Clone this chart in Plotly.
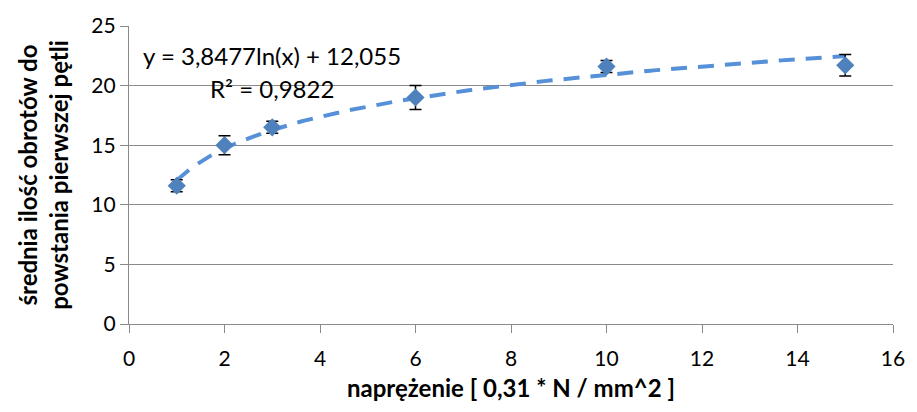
import numpy as np
import plotly.graph_objects as go

# measured data
stress = [1, 2, 3, 6, 10, 15]
mean_turns = [11.6, 15.0, 16.5, 19.0, 21.6, 21.7]
turns_err = [0.5, 0.8, 0.5, 1.0, 0.5, 0.9]

# logarithmic fit: y = a*ln(x) + b
fit_a = 3.8477
fit_b = 12.055
fit_r2 = "0,9822"

x_ticks = [0, 2, 4, 6, 8, 10, 12, 14, 16]
y_ticks = [0, 5, 10, 15, 20, 25]

FONT = "Lato, Roboto, sans-serif"
GRID = "#8a8a8a"

fit_x = np.linspace(min(stress), max(stress), 200)
fit_y = fit_a * np.log(fit_x) + fit_b

fig = go.Figure()

fig.add_trace(go.Scatter(
    x=fit_x, y=fit_y, mode="lines",
    line=dict(color="#5590D8", width=4, dash="16px,11px"),
    hoverinfo="skip", showlegend=False,
))

fig.add_trace(go.Scatter(
    x=stress, y=mean_turns, mode="markers",
    marker=dict(symbol="diamond", size=14, color="#4F81BD"),
    error_y=dict(type="data", array=turns_err, visible=True,
                 color="#000000", thickness=1.5, width=6),
    showlegend=False,
))

fig.add_annotation(
    x=3.0, y=22.5, xref="x", yref="y", showarrow=False,
    text="y = 3,8477ln(x) + 12,055",
    font=dict(family=FONT, size=24, color="#000000"),
    xanchor="center", yanchor="middle",
)
fig.add_annotation(
    x=3.0, y=19.75, xref="x", yref="y", showarrow=False,
    text="R² = " + fit_r2,
    font=dict(family=FONT, size=24, color="#000000"),
    xanchor="center", yanchor="middle",
)

fig.update_layout(
    width=917, height=412,
    margin=dict(l=129, r=16, t=24, b=88),
    paper_bgcolor="white", plot_bgcolor="white",
    font=dict(family=FONT, size=21, color="#000000"),
)

fig.update_xaxes(
    range=[0, 16], tickvals=x_ticks, ticktext=[str(v) for v in x_ticks],
    showgrid=False, zeroline=False,
    showline=True, linecolor=GRID, linewidth=1.3,
    ticks="outside", ticklen=8, tickcolor=GRID, tickwidth=1.3,
    ticklabelstandoff=8,
    tickfont=dict(family=FONT, size=21),
    title=dict(text="<b>naprężenie [ 0,31 * N / mm^2 ]</b>",
               font=dict(family=FONT, size=24), standoff=10),
)

fig.update_yaxes(
    range=[0, 25], tickvals=y_ticks, ticktext=[str(v) for v in y_ticks],
    showgrid=True, gridcolor=GRID, gridwidth=1.3, zeroline=False,
    showline=True, linecolor=GRID, linewidth=1.3,
    ticks="outside", ticklen=8, tickcolor=GRID, tickwidth=1.3,
    tickfont=dict(family=FONT, size=21),
    title=dict(text="<b>średnia ilość obrotów do<br>powstania pierwszej pętli</b>",
               font=dict(family=FONT, size=24), standoff=15),
)

fig.write_html("out.html")
